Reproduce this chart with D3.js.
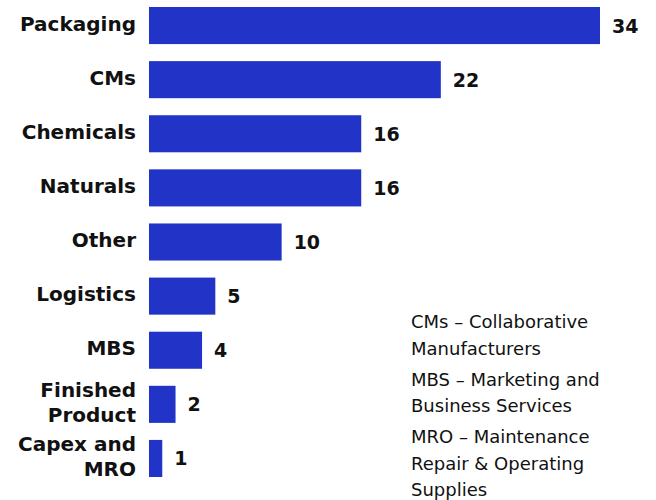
<!DOCTYPE html>
<html>
<head>
<meta charset="utf-8">
<script src="https://cdn.jsdelivr.net/npm/d3@7"></script>
<style>
  body { margin: 0; background: #fff; }
  svg { display: block; font-family: "DejaVu Sans", "Noto Sans", sans-serif; }
</style>
</head>
<body>
<div id="chart"></div>
<script>
// Categories (each entry is the list of label lines) and their values
const categories = [
    ["Packaging"], ["CMs"], ["Chemicals"], ["Naturals"], ["Other"],
    ["Logistics"], ["MBS"], ["Finished", "Product"], ["Capex and", "MRO"]
];
const values = [34, 22, 16, 16, 10, 5, 4, 2, 1];

// Abbreviation notes, one list of lines per note
const notes = [
    ["CMs \u2013 Collaborative", "Manufacturers"],
    ["MBS \u2013 Marketing and", "Business Services"],
    ["MRO \u2013 Maintenance", "Repair & Operating", "Supplies"]
];

const width = 656;
const height = 500;
const barColor = "#2233c8";

const svg = d3.select("#chart")
    .append("svg")
    .attr("width", width)
    .attr("height", height);

const keys = categories.map(d => d.join(" "));

// Scales
const x = d3.scaleLinear()
    .domain([0, 34])
    .range([149, 600]);

const y = d3.scaleBand()
    .domain(keys)
    .range([7, 477])
    .paddingInner(0.315)
    .paddingOuter(0);

// Bars
svg.append("g")
    .selectAll("rect")
    .data(values)
    .enter().append("rect")
    .attr("x", x(0))
    .attr("y", (d, i) => y(keys[i]))
    .attr("width", d => x(d) - x(0))
    .attr("height", y.bandwidth())
    .attr("fill", barColor);

// Value labels
svg.append("g")
    .selectAll("text")
    .data(values)
    .enter().append("text")
    .attr("x", d => x(d) + 12)
    .attr("y", (d, i) => y(keys[i]) + y.bandwidth() / 2)
    .attr("dy", "0.37em")
    .attr("font-size", 19)
    .attr("font-weight", 700)
    .attr("fill", "#111")
    .text(d => d);

// Category labels (may span two lines)
const lineHeight = 24.5;
const labels = svg.append("g")
    .selectAll("text")
    .data(categories)
    .enter().append("text")
    .attr("text-anchor", "end")
    .attr("font-size", 20)
    .attr("font-weight", 700)
    .attr("fill", "#111");

labels.each(function(lines, i) {
    const cy = y(keys[i]) + y.bandwidth() / 2;
    const first = cy - (lines.length - 1) * lineHeight / 2;
    d3.select(this).selectAll("tspan")
        .data(lines)
        .enter().append("tspan")
        .attr("x", 136)
        .attr("y", (d, j) => first + j * lineHeight)
        .attr("dy", "0.26em")
        .text(d => d);
});

// Notes block
const noteLine = 26.5;
const noteGap = 31;
let ny = 328;
const noteG = svg.append("g")
    .attr("font-size", 18)
    .attr("fill", "#111");
notes.forEach(lines => {
    lines.forEach((line, j) => {
        noteG.append("text")
            .attr("x", 411)
            .attr("y", ny + j * noteLine)
            .text(line);
    });
    ny += (lines.length - 1) * noteLine + noteGap;
});
</script>
</body>
</html>
